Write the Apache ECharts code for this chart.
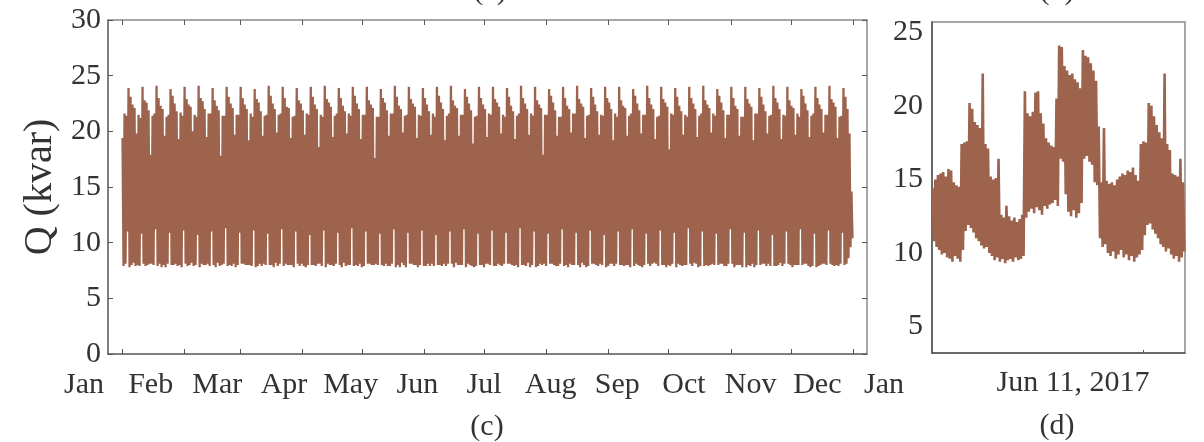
<!DOCTYPE html>
<html>
<head>
<meta charset="utf-8">
<script src="https://cdn.jsdelivr.net/npm/echarts@6.0.0/dist/echarts.min.js"></script>
<style>
  html, body { margin: 0; padding: 0; background: #fff; }
  #chart { width: 1204px; height: 442px; }
</style>
</head>
<body>
<div id="chart"></div>
<script>
// Reactive power Q (kvar), 2017: daily maximum and minimum, day 0 = Jan 1
const dailyMax = [
  19.4,21.6,21.4,23.9,23.1,22.4,22.1,
  19.8,21.5,21.2,24.0,22.8,22.6,21.9,
  17.9,21.4,21.6,24.1,23.0,22.3,22.0,
  19.6,21.3,21.5,23.8,23.2,22.5,21.8,
  19.3,21.7,21.4,24.0,22.9,22.4,22.2,
  20.0,21.5,21.3,24.1,23.0,22.7,22.0,
  19.5,21.6,21.6,23.9,22.8,22.3,21.9,
  17.8,21.4,21.4,24.0,23.1,22.5,22.1,
  19.7,21.5,21.5,24.0,23.0,22.4,22.0,
  19.2,21.6,21.3,23.8,22.9,22.6,21.8,
  19.6,21.4,21.5,24.1,23.2,22.5,22.0,
  19.9,21.5,21.6,24.0,23.0,22.2,22.1,
  19.4,21.3,21.4,23.9,22.8,22.5,21.9,
  19.7,21.6,21.5,24.0,23.1,22.4,22.0,
  18.6,21.5,21.3,24.1,22.9,22.6,22.2,
  19.5,21.4,21.6,23.9,23.0,22.3,21.8,
  19.8,21.6,21.4,24.0,23.2,22.5,22.0,
  19.3,21.5,21.5,24.0,22.8,22.4,22.1,
  17.6,21.3,21.3,23.8,23.0,22.6,21.9,
  19.6,21.6,21.6,24.1,23.1,22.3,22.0,
  19.9,21.4,21.5,24.0,22.9,22.5,22.2,
  19.4,21.5,21.4,23.9,23.0,22.4,21.8,
  19.7,21.6,21.3,24.0,23.2,22.6,22.0,
  19.2,21.4,21.6,24.1,22.8,22.3,22.1,
  19.6,21.5,21.5,23.8,23.1,22.5,21.9,
  18.9,21.3,21.4,24.0,23.0,22.4,22.0,
  19.5,21.6,21.5,24.0,22.9,22.6,22.2,
  19.8,21.5,21.3,23.9,23.1,22.3,21.8,
  19.3,21.4,21.6,24.1,23.0,22.5,22.0,
  19.7,21.6,21.4,24.0,22.8,22.4,22.1,
  17.9,21.5,21.5,23.8,23.2,22.6,21.9,
  19.6,21.3,21.3,24.0,23.0,22.3,22.0,
  19.9,21.6,21.6,24.1,22.9,22.5,22.2,
  19.4,21.4,21.5,23.9,23.1,22.4,21.8,
  19.7,21.5,21.4,24.0,23.0,22.6,22.0,
  19.2,21.6,21.3,24.0,22.8,22.3,22.1,
  19.6,21.4,21.6,23.8,23.2,22.5,21.9,
  19.8,21.5,21.5,24.1,23.0,22.4,22.0,
  19.3,21.3,21.4,24.0,22.9,22.6,22.2,
  18.4,21.6,21.5,23.9,23.1,22.3,21.8,
  19.7,21.5,21.3,24.0,23.0,22.5,22.0,
  19.5,21.4,21.6,24.1,22.8,22.4,22.1,
  19.9,21.6,21.4,23.8,23.2,22.6,21.9,
  19.4,21.5,21.5,24.0,23.0,22.3,22.0,
  19.6,21.3,21.3,24.0,22.9,22.5,22.2,
  19.2,21.6,21.6,23.9,23.1,22.4,21.8,
  19.8,21.4,21.5,24.1,23.0,22.6,22.0,
  19.3,21.5,21.4,24.0,22.8,22.3,22.1,
  19.7,21.6,21.3,23.8,23.2,22.5,21.9,
  19.5,21.4,21.6,24.0,23.0,22.4,22.0,
  19.9,21.5,21.5,24.1,22.9,22.6,22.2,
  19.4,21.3,21.4,23.9,23.1,22.0,19.8,
  14.6
];
const dailyMin = [
  7.9,8.1,11.0,7.8,8.0,8.2,7.9,
  8.0,7.9,10.8,8.1,7.9,8.0,8.1,
  8.1,8.0,11.2,7.9,8.1,7.8,8.0,
  7.8,8.1,10.9,8.0,8.0,8.1,7.9,
  8.0,7.8,11.1,8.1,7.9,8.0,8.2,
  7.9,8.0,10.7,7.8,8.1,8.0,8.0,
  8.1,7.9,11.0,8.0,7.8,8.2,7.9,
  8.0,8.1,11.3,7.9,8.0,7.9,8.1,
  7.8,8.0,10.9,8.1,8.1,8.0,8.0,
  8.0,7.9,11.1,7.8,7.9,8.1,7.9,
  8.1,8.0,10.8,8.0,8.0,7.8,8.2,
  7.9,8.1,11.2,7.9,8.1,8.0,8.0,
  8.0,7.8,11.0,8.1,7.9,8.1,7.9,
  7.8,8.0,10.7,8.0,8.0,7.9,8.1,
  8.1,7.9,11.1,7.8,8.1,8.0,8.0,
  7.9,8.1,10.9,8.0,7.8,8.2,7.9,
  8.0,8.0,11.3,7.9,8.0,7.9,8.1,
  7.8,7.9,11.0,8.1,8.1,8.0,8.0,
  8.1,8.0,10.8,8.0,7.9,8.1,7.9,
  7.9,8.1,11.2,7.8,8.0,7.8,8.2,
  8.0,7.8,10.9,8.1,8.1,8.0,8.0,
  7.8,8.0,11.1,7.9,7.9,8.1,7.9,
  8.1,7.9,10.7,8.0,8.0,7.9,8.1,
  7.9,8.1,11.0,8.1,7.8,8.2,8.0,
  8.0,8.0,11.2,7.8,8.1,8.0,7.9,
  7.8,7.9,10.8,8.0,8.0,7.8,8.1,
  8.1,8.0,11.1,7.9,7.9,8.1,8.0,
  7.9,8.1,10.9,8.1,8.1,8.0,7.9,
  8.0,7.8,11.3,8.0,8.0,7.9,8.2,
  7.8,8.0,11.0,7.8,7.9,8.1,8.0,
  8.1,7.9,10.8,8.1,8.1,8.0,7.9,
  7.9,8.1,11.2,7.9,8.0,7.8,8.1,
  8.0,8.0,10.9,8.0,7.8,8.2,8.0,
  7.8,7.9,11.1,8.1,8.1,8.0,7.9,
  8.1,8.0,10.7,7.8,7.9,8.1,8.1,
  7.9,8.1,11.0,8.0,8.0,7.9,8.0,
  8.0,7.8,11.2,7.9,8.1,8.0,7.9,
  7.8,8.0,10.8,8.1,7.9,8.1,8.2,
  8.1,7.9,11.1,8.0,8.0,7.8,8.0,
  7.9,8.1,10.9,7.8,8.1,8.0,7.9,
  8.0,8.0,11.3,8.1,7.9,8.2,8.1,
  7.8,7.9,11.0,7.9,8.0,7.9,8.0,
  8.1,8.0,10.8,8.0,8.1,8.1,7.9,
  7.9,8.1,11.2,8.1,7.8,8.0,8.0,
  8.0,7.8,10.9,7.8,8.0,7.9,8.1,
  7.8,8.0,11.1,8.0,8.1,8.1,7.9,
  8.1,7.9,10.7,7.9,7.9,8.0,8.2,
  7.9,8.1,11.0,8.1,8.0,7.8,8.0,
  8.0,8.0,11.2,8.0,8.1,8.1,7.9,
  7.8,7.9,10.8,7.8,7.9,8.0,8.1,
  8.1,8.0,11.1,8.1,8.0,7.9,8.0,
  7.9,8.1,10.9,8.0,8.1,8.6,9.6,
  10.4
];

// Month boundaries (day offsets from Jan 1, 2017) and the month names under the axis
const monthTicks = [0, 31, 59, 90, 120, 151, 181, 212, 243, 273, 304, 334, 365];
const monthLabels = ['Jan','Feb','Mar','Apr','May','Jun','Jul','Aug','Sep','Oct','Nov','Dec','Jan'];

// Close-up around Jun 11, 2017: hourly maximum and minimum of Q (kvar)
const hourMax = [
  14.4,15.0,15.3,15.4,15.5,15.2,15.7,15.6,14.8,14.6,
  14.5,17.4,17.5,17.6,20.2,19.8,18.9,18.7,18.5,22.2,
  17.4,17.1,15.2,15.0,15.1,16.4,12.6,12.4,13.2,12.5,
  12.2,12.4,12.1,12.3,12.6,21.0,19.5,19.3,19.6,20.9,
  21.0,19.5,18.8,17.8,17.5,17.3,17.2,20.5,24.1,24.0,
  22.7,22.4,22.1,22.2,21.8,21.6,21.2,23.8,23.4,23.3,
  22.9,22.4,21.7,18.6,14.8,18.5,14.9,14.7,14.8,14.6,
  15.0,15.2,15.4,15.3,15.6,15.5,15.8,15.3,14.9,17.4,
  17.6,17.5,20.2,20.0,19.3,18.7,18.2,17.8,22.2,17.4,
  17.0,15.4,15.3,15.2,16.4,14.8
];
const hourMin = [
  10.8,10.4,10.2,9.9,10.0,9.7,9.6,9.4,9.8,9.6,
  9.4,10.2,11.5,11.9,11.7,11.4,11.0,10.8,10.5,10.3,
  10.4,10.0,9.8,9.5,9.7,9.4,9.6,9.3,9.5,9.6,
  9.4,9.7,9.5,9.6,9.8,12.4,12.8,13.0,12.7,13.1,
  12.9,12.6,13.2,13.0,13.3,13.4,13.6,13.2,16.4,16.2,
  14.0,12.8,12.5,12.9,12.4,12.7,13.4,16.4,16.6,16.2,
  16.0,14.8,14.6,11.0,10.4,10.6,10.0,9.8,10.1,9.6,
  9.9,10.2,9.7,9.9,9.5,9.8,9.4,9.7,9.9,10.2,
  11.2,11.9,12.0,11.6,11.3,11.0,10.6,10.4,10.1,10.3,
  9.9,9.6,9.8,9.4,9.7,10.1
];
const closeUpTick = [80];          // hour mark on the close-up axis
const closeUpLabelAt = [53.5];     // where the date caption sits
const closeUpLabel = 'Jun 11, 2017';
const closeUpYLabels = [5, 10, 15, 20, 25];

// Each period contributes its max then its min, so the trace sweeps the full range
const yearLine = [];
dailyMax.forEach((v, d) => { yearLine.push([d + 0.25, v]); yearLine.push([d + 0.75, dailyMin[d]]); });
const dayLine = [];
hourMax.forEach((v, h) => { dayLine.push([h + 0.25, v]); dayLine.push([h + 0.75, hourMin[h]]); });

const SERIF = '"Liberation Serif", "DejaVu Serif", serif';
const TXT = '#333';
const DARK = '#555';
const LIGHT = '#8a8a8a';
const BROWN = '#9d634c';

const labelStyle = { fontFamily: SERIF, fontSize: 30, color: TXT };

const chart = echarts.init(document.getElementById('chart'), null, { renderer: 'canvas' });

const option = {
  animation: false,
  backgroundColor: '#fff',
  grid: [
    { left: 108, top: 20, width: 759, height: 334, show: false },
    { left: 932, top: 22, width: 253, height: 331, show: true, borderColor: LIGHT, borderWidth: 1.5, backgroundColor: 'transparent' },
    { left: 84, top: 20, width: 800, height: 334, show: false }
  ],
  xAxis: [
    {
      gridIndex: 0, type: 'value', min: -7, max: 372, position: 'bottom',
      axisLine: { show: true, onZero: false, lineStyle: { color: DARK, width: 1.5 } },
      axisTick: { show: true, inside: true, length: 5, customValues: monthTicks, lineStyle: { color: DARK, width: 1 } },
      axisLabel: { show: false },
      splitLine: { show: false }
    },
    {
      gridIndex: 0, type: 'value', min: -7, max: 372, position: 'top',
      axisLine: { show: true, onZero: false, lineStyle: { color: LIGHT, width: 1.5 } },
      axisTick: { show: true, inside: true, length: 5, customValues: monthTicks, lineStyle: { color: DARK, width: 1 } },
      axisLabel: { show: false },
      splitLine: { show: false }
    },
    {
      gridIndex: 1, type: 'value', min: 0, max: 96, position: 'bottom',
      axisLine: { show: true, onZero: false, lineStyle: { color: DARK, width: 1.5 } },
      axisTick: { show: true, inside: true, length: 3, customValues: closeUpTick, lineStyle: { color: DARK, width: 1 } },
      axisLabel: Object.assign({ customValues: closeUpLabelAt, formatter: () => closeUpLabel, margin: 15 }, labelStyle),
      splitLine: { show: false }
    },
    {
      gridIndex: 2, type: 'value', min: 0, max: 12, interval: 1, position: 'bottom',
      axisLine: { show: false, onZero: false },
      axisTick: { show: false },
      axisLabel: Object.assign({ formatter: (v) => monthLabels[Math.round(v)], margin: 16, showMinLabel: true, showMaxLabel: true }, labelStyle),
      splitLine: { show: false }
    }
  ],
  yAxis: [
    {
      gridIndex: 0, type: 'value', min: 0, max: 30, interval: 5, position: 'left',
      axisLine: { show: true, onZero: false, lineStyle: { color: DARK, width: 1.5 } },
      axisTick: { show: true, inside: true, length: 5, lineStyle: { color: DARK, width: 1 } },
      axisLabel: Object.assign({ margin: 7 }, labelStyle),
      splitLine: { show: false },
      name: 'Q (kvar)', nameLocation: 'middle', nameGap: 44,
      nameTextStyle: { fontFamily: SERIF, fontSize: 40, color: TXT }
    },
    {
      gridIndex: 0, type: 'value', min: 0, max: 30, interval: 5, position: 'right',
      axisLine: { show: true, onZero: false, lineStyle: { color: LIGHT, width: 1.5 } },
      axisTick: { show: true, inside: true, length: 5, lineStyle: { color: DARK, width: 1 } },
      axisLabel: { show: false },
      splitLine: { show: false }
    },
    {
      gridIndex: 1, type: 'value', min: 3.2, max: 25.7, position: 'left',
      axisLine: { show: true, onZero: false, lineStyle: { color: DARK, width: 1.5 } },
      axisTick: { show: false },
      axisLabel: Object.assign({ customValues: closeUpYLabels, margin: 9 }, labelStyle),
      splitLine: { show: false }
    },
    { gridIndex: 2, type: 'value', min: 0, max: 1, show: false }
  ],
  series: [
    {
      type: 'line', xAxisIndex: 0, yAxisIndex: 0, data: yearLine,
      showSymbol: false, symbol: 'none', silent: true,
      lineStyle: { color: BROWN, width: 2.3, join: 'bevel' }
    },
    {
      type: 'line', xAxisIndex: 2, yAxisIndex: 2, data: dayLine,
      showSymbol: false, symbol: 'none', silent: true,
      lineStyle: { color: BROWN, width: 2.6, join: 'bevel' }
    }
  ],
  graphic: [
    { type: 'text', x: 490, y: -9, style: { text: '(a)', font: '30px ' + SERIF, fill: TXT, align: 'center', verticalAlign: 'middle' } },
    { type: 'text', x: 1057, y: -9, style: { text: '(b)', font: '30px ' + SERIF, fill: TXT, align: 'center', verticalAlign: 'middle' } },
    { type: 'text', x: 487, y: 427, style: { text: '(c)', font: '30px ' + SERIF, fill: TXT, align: 'center', verticalAlign: 'middle' } },
    { type: 'text', x: 1057, y: 426, style: { text: '(d)', font: '30px ' + SERIF, fill: TXT, align: 'center', verticalAlign: 'middle' } }
  ]
};

chart.setOption(option);
</script>
</body>
</html>
